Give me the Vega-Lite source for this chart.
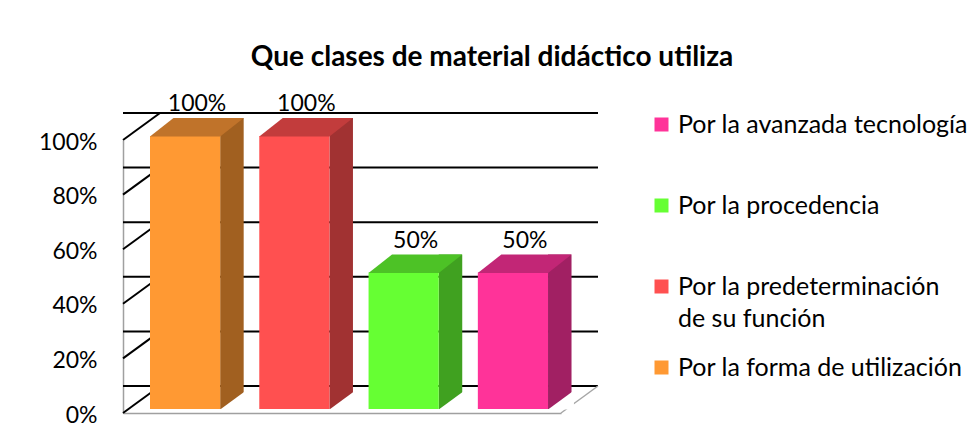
{
  "$schema": "https://vega.github.io/schema/vega-lite/v6.json",
  "width": 438,
  "height": 273,
  "autosize": {"type": "none"},
  "padding": {"left": 123, "top": 140, "right": 418, "bottom": 26},
  "background": "white",
  "title": {
    "text": "Que clases de material didáctico utiliza",
    "font": "Lato",
    "fontSize": 28,
    "fontWeight": "bold",
    "color": "black",
    "anchor": "middle",
    "frame": "group",
    "dx": 150,
    "offset": 21
  },
  "config": {
    "view": {"stroke": null},
    "font": "Lato",
    "axisX": {"labels": false, "ticks": false, "title": null, "grid": false, "domainColor": "#A0A0A0", "domainWidth": 1.5},
    "axisY": {"ticks": false, "grid": false, "title": null, "domainColor": "#A0A0A0", "domainWidth": 1.5, "labelFont": "Lato", "labelFontSize": 23, "labelColor": "black", "labelPadding": 26, "labelOffset": 2}
  },
  "datasets": {
    "barras": [
      {"tipo": "Por la forma de utilización", "valor": 1.0},
      {"tipo": "Por la predeterminación de su función", "valor": 1.0},
      {"tipo": "Por la procedencia", "valor": 0.5},
      {"tipo": "Por la avanzada tecnología", "valor": 0.5}
    ],
    "marcas": [{"t": 0}, {"t": 0.2}, {"t": 0.4}, {"t": 0.6}, {"t": 0.8}, {"t": 1.0}]
  },
  "resolve": {"scale": {"fill": "independent"}},
  "layer": [
    {
      "data": {"name": "marcas"},
      "mark": {"type": "rule", "color": "black", "strokeWidth": 2, "xOffset": 37, "x2Offset": 37, "yOffset": -27},
      "encoding": {
        "y": {"field": "t", "type": "quantitative", "scale": {"domain": [0, 1], "nice": false}, "axis": {"values": [0, 0.2, 0.4, 0.6, 0.8, 1], "format": ".0%"}}
      }
    },
    {
      "data": {"name": "marcas"},
      "mark": {"type": "rule", "color": "black", "strokeWidth": 2, "xOffset": -20, "x2Offset": 17, "y2Offset": -27},
      "encoding": {
        "x": {"datum": "Por la forma de utilización", "type": "nominal", "bandPosition": 0},
        "x2": {"datum": "Por la forma de utilización", "bandPosition": 0},
        "y": {"field": "t", "type": "quantitative"},
        "y2": {"field": "t"}
      }
    },
    {
      "data": {"values": [{"t": 0}]},
      "mark": {"type": "rule", "color": "#A6A6A6", "strokeWidth": 1.5, "xOffset": 20, "x2Offset": 57, "y2Offset": -27},
      "encoding": {
        "x": {"datum": "Por la avanzada tecnología", "type": "nominal", "bandPosition": 1},
        "x2": {"datum": "Por la avanzada tecnología", "bandPosition": 1},
        "y": {"field": "t", "type": "quantitative"},
        "y2": {"field": "t"}
      }
    },
    {
      "data": {"name": "barras"},
      "mark": {"type": "bar", "width": 23.5, "xOffset": 53.85, "yOffset": -22, "y2Offset": -4},
      "encoding": {
        "x": {"field": "tipo", "type": "nominal"},
        "y": {"field": "valor", "type": "quantitative"},
        "y2": {"datum": 0},
        "fill": {
          "field": "tipo", "type": "nominal", "legend": null,
          "scale": {
            "domain": ["Por la avanzada tecnología", "Por la procedencia", "Por la predeterminación de su función", "Por la forma de utilización"],
            "range": ["#A12063", "#40A120", "#A13232", "#A16020"]
          }
        }
      }
    },
    {
      "data": {"name": "barras"},
      "mark": {"type": "point", "filled": true, "fill": "white", "opacity": 1, "strokeWidth": 0, "size": 40000, "xOffset": 7, "yOffset": -4,
        "shape": "M 0.351 0.005 L 0.61 0.005 L 0.61 -0.186 Z"},
      "encoding": {
        "x": {"field": "tipo", "type": "nominal"},
        "y": {"datum": 0, "type": "quantitative"}
      }
    },
    {
      "data": {"name": "barras"},
      "mark": {"type": "bar", "xOffset": 7, "yOffset": -4, "y2Offset": -4},
      "encoding": {
        "x": {
          "field": "tipo", "type": "nominal",
          "scale": {
            "domain": ["Por la forma de utilización", "Por la predeterminación de su función", "Por la procedencia", "Por la avanzada tecnología"],
            "paddingInner": 0.358, "paddingOuter": 0.183
          }
        },
        "y": {"field": "valor", "type": "quantitative"},
        "y2": {"datum": 0},
        "color": {
          "field": "tipo", "type": "nominal",
          "scale": {
            "domain": ["Por la avanzada tecnología", "Por la procedencia", "Por la predeterminación de su función", "Por la forma de utilización"],
            "range": ["#FF3399", "#66FF33", "#FF5050", "#FF9933"]
          },
          "legend": {
            "orient": "none", "legendX": 526, "legendY": -28, "direction": "vertical", "columns": 1,
            "title": null, "symbolType": "square", "symbolSize": 196, "symbolStrokeWidth": 0,
            "labelFont": "Lato", "labelFontSize": 25, "labelColor": "black", "labelLimit": 400, "labelOffset": 4,
            "rowPadding": 23, "gridAlign": "all",
            "labelExpr": "datum.label == 'Por la predeterminación de su función' ? ['Por la predeterminación', 'de su función'] : datum.label",
            "encode": {"labels": {"update": {"lineHeight": {"value": 32}}}}
          }
        }
      }
    },
    {
      "data": {"name": "barras"},
      "mark": {"type": "point", "filled": true, "opacity": 1, "strokeWidth": 0, "size": 40000, "xOffset": 7, "yOffset": -4,
        "shape": "M -0.351 0.004 L 0.351 0.004 L 0.586 -0.18 L -0.116 -0.18 Z"},
      "encoding": {
        "x": {"field": "tipo", "type": "nominal"},
        "y": {"field": "valor", "type": "quantitative"},
        "fill": {
          "field": "tipo", "type": "nominal", "legend": null,
          "scale": {
            "domain": ["Por la avanzada tecnología", "Por la procedencia", "Por la predeterminación de su función", "Por la forma de utilización"],
            "range": ["#C22676", "#4DC226", "#C23C3C", "#C0732A"]
          }
        }
      }
    },
    {
      "data": {"name": "barras"},
      "mark": {"type": "text", "font": "Lato", "fontSize": 23, "color": "black", "align": "center", "baseline": "alphabetic", "xOffset": 19, "yOffset": -29},
      "encoding": {
        "x": {"field": "tipo", "type": "nominal"},
        "y": {"field": "valor", "type": "quantitative"},
        "text": {"field": "valor", "type": "quantitative", "format": ".0%"}
      }
    }
  ]
}
